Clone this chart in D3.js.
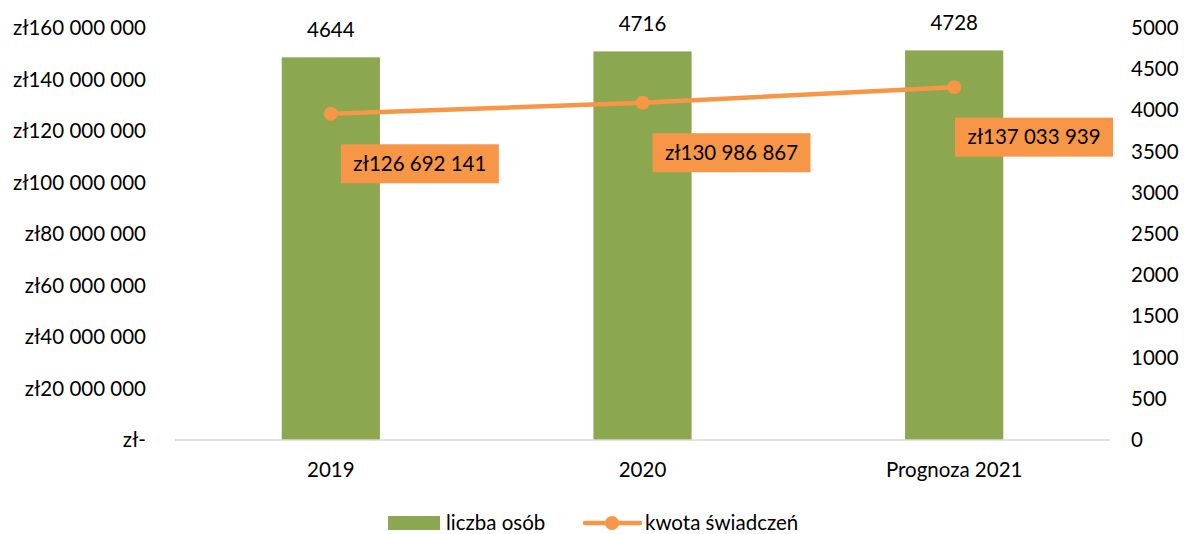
<!DOCTYPE html>
<html>
<head>
<meta charset="utf-8">
<script src="https://cdn.jsdelivr.net/npm/d3@7"></script>
<style>
  body { margin: 0; background: #fff; }
  svg text { font-family: Lato, "Open Sans", sans-serif; fill: #000; font-size: 20.5px; }
</style>
</head>
<body>
<div id="chart"></div>
<script>
// chart data
var categories = ["2019", "2020", "Prognoza 2021"];
var persons = [4644, 4716, 4728];
var amounts = [126692141, 130986867, 137033939];
var amountLabels = ["zł126 692 141", "zł130 986 867", "zł137 033 939"];
var leftTicks = [0, 20000000, 40000000, 60000000, 80000000, 100000000, 120000000, 140000000, 160000000];
var rightTicks = [0, 500, 1000, 1500, 2000, 2500, 3000, 3500, 4000, 4500, 5000];

var width = 1185, height = 534;
var margin = { top: 28, right: 75, bottom: 94, left: 175 };
var chartWidth = width - margin.left - margin.right;
var chartHeight = height - margin.top - margin.bottom;

var green = "#8BA74F", orange = "#F79646";

var svg = d3.select("#chart").append("svg")
    .attr("width", width)
    .attr("height", height);

var chartGroup = svg.append("g")
    .attr("transform", `translate(${margin.left}, ${margin.top})`);

var xScale = d3.scaleBand()
    .domain(categories)
    .range([0, chartWidth])
    .paddingInner(0.685)
    .paddingOuter(0.3425);

var xCenter = d => xScale(d) + xScale.bandwidth() / 2;

var yLeft = d3.scaleLinear().domain([0, 160000000]).range([chartHeight, 0]);
var yRight = d3.scaleLinear().domain([0, 5000]).range([chartHeight, 0]);

function fmtZl(v) {
    if (v === 0) return "zł-";
    return "zł" + d3.format(",")(v).replace(/,/g, " ");
}

// left axis
var leftAxis = d3.axisLeft(yLeft).tickValues(leftTicks).tickFormat(fmtZl).tickSize(0).tickPadding(29);
chartGroup.append("g").call(leftAxis)
    .call(g => g.select(".domain").remove())
    .selectAll("text").style("font-size", null).attr("font-family", null);

// right axis
var rightAxis = d3.axisRight(yRight).tickValues(rightTicks).tickFormat(d3.format("d")).tickSize(0).tickPadding(21);
chartGroup.append("g")
    .attr("transform", `translate(${chartWidth}, 0)`)
    .call(rightAxis)
    .call(g => g.select(".domain").remove());

// bars
chartGroup.selectAll("rect.bar")
    .data(categories)
    .enter()
    .append("rect")
    .attr("class", "bar")
    .attr("x", d => xScale(d))
    .attr("width", xScale.bandwidth())
    .attr("y", (d, i) => yRight(persons[i]))
    .attr("height", (d, i) => chartHeight - yRight(persons[i]))
    .attr("fill", green);

// baseline
chartGroup.append("line")
    .attr("x1", 0).attr("x2", chartWidth)
    .attr("y1", chartHeight).attr("y2", chartHeight)
    .attr("stroke", "#D9D9D9").attr("stroke-width", 1.5);

// x axis labels
var bottomAxis = d3.axisBottom(xScale).tickSize(0).tickPadding(22);
chartGroup.append("g")
    .attr("transform", `translate(0, ${chartHeight})`)
    .call(bottomAxis)
    .call(g => g.select(".domain").remove());

// axis groups set their own font attrs; let CSS win
svg.selectAll("g").attr("font-size", null).attr("font-family", null);

// bar value labels
chartGroup.selectAll("text.barlabel")
    .data(categories)
    .enter()
    .append("text")
    .attr("class", "barlabel")
    .attr("x", d => xCenter(d))
    .attr("y", (d, i) => yRight(persons[i]) - 20)
    .attr("text-anchor", "middle")
    .text((d, i) => persons[i]);

// line
var drawLine = d3.line()
    .x(d => xCenter(d))
    .y((d, i) => yLeft(amounts[i]));

chartGroup.append("path")
    .datum(categories)
    .attr("d", drawLine)
    .attr("fill", "none")
    .attr("stroke", orange)
    .attr("stroke-width", 4.5)
    .attr("stroke-linecap", "round");

chartGroup.selectAll("circle.pt")
    .data(categories)
    .enter()
    .append("circle")
    .attr("class", "pt")
    .attr("cx", d => xCenter(d))
    .attr("cy", (d, i) => yLeft(amounts[i]))
    .attr("r", 7)
    .attr("fill", orange);

// amount labels in boxes
var boxW = 158, boxH = 39;
var labelGroups = chartGroup.selectAll("g.amt")
    .data(categories)
    .enter()
    .append("g")
    .attr("class", "amt")
    .attr("transform", function(d, i) {
        var cx = Math.min(xCenter(d) + 89, chartWidth + 3 - boxW / 2);
        var cy = yLeft(amounts[i]) + 50;
        return `translate(${cx}, ${cy})`;
    });

labelGroups.append("rect")
    .attr("x", -boxW / 2).attr("y", -boxH / 2)
    .attr("width", boxW).attr("height", boxH)
    .attr("fill", orange);

labelGroups.append("text")
    .attr("text-anchor", "middle")
    .attr("dy", "0.35em")
    .text((d, i) => amountLabels[i]);

// legend
var legend = svg.append("g").attr("transform", "translate(0, 523)");
legend.append("rect")
    .attr("x", 388).attr("y", -7).attr("width", 52).attr("height", 14)
    .attr("fill", green);
legend.append("text")
    .attr("x", 446).attr("dy", "0.35em")
    .text("liczba osób");
legend.append("line")
    .attr("x1", 585).attr("x2", 640).attr("y1", 0).attr("y2", 0)
    .attr("stroke", orange).attr("stroke-width", 4.5).attr("stroke-linecap", "round");
legend.append("circle")
    .attr("cx", 612).attr("cy", 0).attr("r", 7).attr("fill", orange);
legend.append("text")
    .attr("x", 645).attr("dy", "0.35em")
    .text("kwota świadczeń");
</script>
</body>
</html>
